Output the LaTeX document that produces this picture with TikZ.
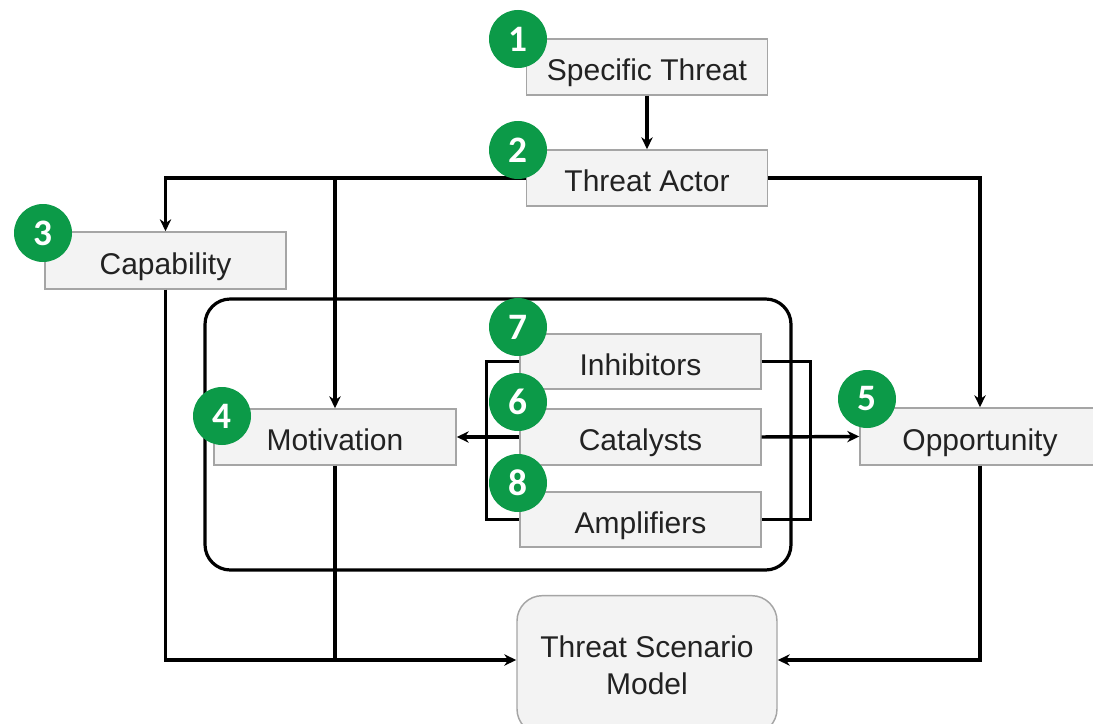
\documentclass[tikz,border=0pt]{standalone}
\usepackage{fontspec}
\setmainfont{Liberation Sans}
\newfontfamily\badgefont{Carlito}
\usetikzlibrary{arrows.meta}

\definecolor{badgegreen}{RGB}{12,154,72}
\definecolor{boxfill}{RGB}{243,243,243}
\definecolor{boxline}{RGB}{165,165,165}
\definecolor{boxtext}{RGB}{34,34,34}

\begin{document}
\begin{tikzpicture}[x=0.75pt,y=-0.75pt,
  box/.style={draw=boxline, line width=1.1pt, fill=boxfill, inner sep=0pt,
    text=boxtext, font=\fontsize{22.5}{28}\selectfont, align=center},
  stdbox/.style={box, minimum width=180.75pt, minimum height=42pt,
    text height=20.6pt, text depth=0pt},
  frame/.style={draw=black, line width=2.4pt, rounded corners=19pt,
    inner sep=0pt, minimum width=439.5pt, minimum height=203.25pt},
  wire/.style={draw=black, line width=2.6pt},
  wirearrow/.style={wire, -{Stealth[length=9pt,width=8.5pt]}},
  badge/.style={circle, fill=badgegreen, minimum size=43.5pt, inner sep=0pt,
    text=white, font=\badgefont\bfseries\fontsize{28}{28}\selectfont}]

\useasboundingbox (0,0) rectangle (1093,724);
\clip (0,0) rectangle (1093,724);
\fill[white] (0,0) rectangle (1093,724);

% outer group around motivation and its modifiers
\node[frame] (group) at (498,434.5) {};

% boxes
\node[stdbox] (st)  at (647,67)    {Specific Threat};
\node[stdbox] (ta)  at (647,178)   {Threat Actor};
\node[stdbox, minimum height=42.75pt] (cap) at (165.5,260.5) {Capability};
\node[stdbox, minimum width=181.5pt] (mot) at (335,437) {Motivation};
\node[stdbox, minimum height=41.25pt] (inh) at (640.5,361.5) {Inhibitors};
\node[stdbox] (cat) at (640.5,437) {Catalysts};
\node[stdbox, minimum height=41.25pt] (amp) at (640.5,519.5) {Amplifiers};
\node[stdbox, minimum width=180pt, minimum height=42.75pt] (opp) at (980,436.5) {Opportunity};
\node[box, rounded corners=19pt, minimum width=195pt, minimum height=104pt]
  (tsm) at (647,665) {Threat Scenario\\[0pt]Model};

\coordinate (tin)  at ([yshift=3.75pt]tsm.west);
\coordinate (tout) at ([yshift=3.75pt]tsm.east);

% connectors
\draw[wirearrow] (st.south) -- (ta.north);
\draw[wirearrow] (ta.west) -| (cap.north);
\draw[wirearrow] (ta.west -| mot.north) -- (mot.north);
\draw[wirearrow] (ta.east) -| (opp.north);
\draw[wirearrow] (cap.south) |- (tin);
\draw[wire] (mot.south) -- (mot.south |- tin);
\draw[wirearrow] (opp.south) |- (tout);
\draw[wirearrow] (cat.west) -- (mot.east);
\draw[wirearrow] (cat.east) -- (opp.west);
\draw[wire] (inh.west) -- ++(-33,0) |- (amp.west);
\draw[wire] (inh.east) -- ++(49,0) |- (amp.east);

% numbered badges
\node[badge] (b1) at (518,39)  {1};
\node[badge] (b2) at (518,150) {2};
\node[badge] (b3) at (43,233)  {3};
\node[badge] (b4) at (222,416) {4};
\node[badge] (b5) at (867,399) {5};
\node[badge] (b6) at (518,402) {6};
\node[badge] (b7) at (518,327) {7};
\node[badge] (b8) at (518,483) {8};
\end{tikzpicture}
\end{document}
